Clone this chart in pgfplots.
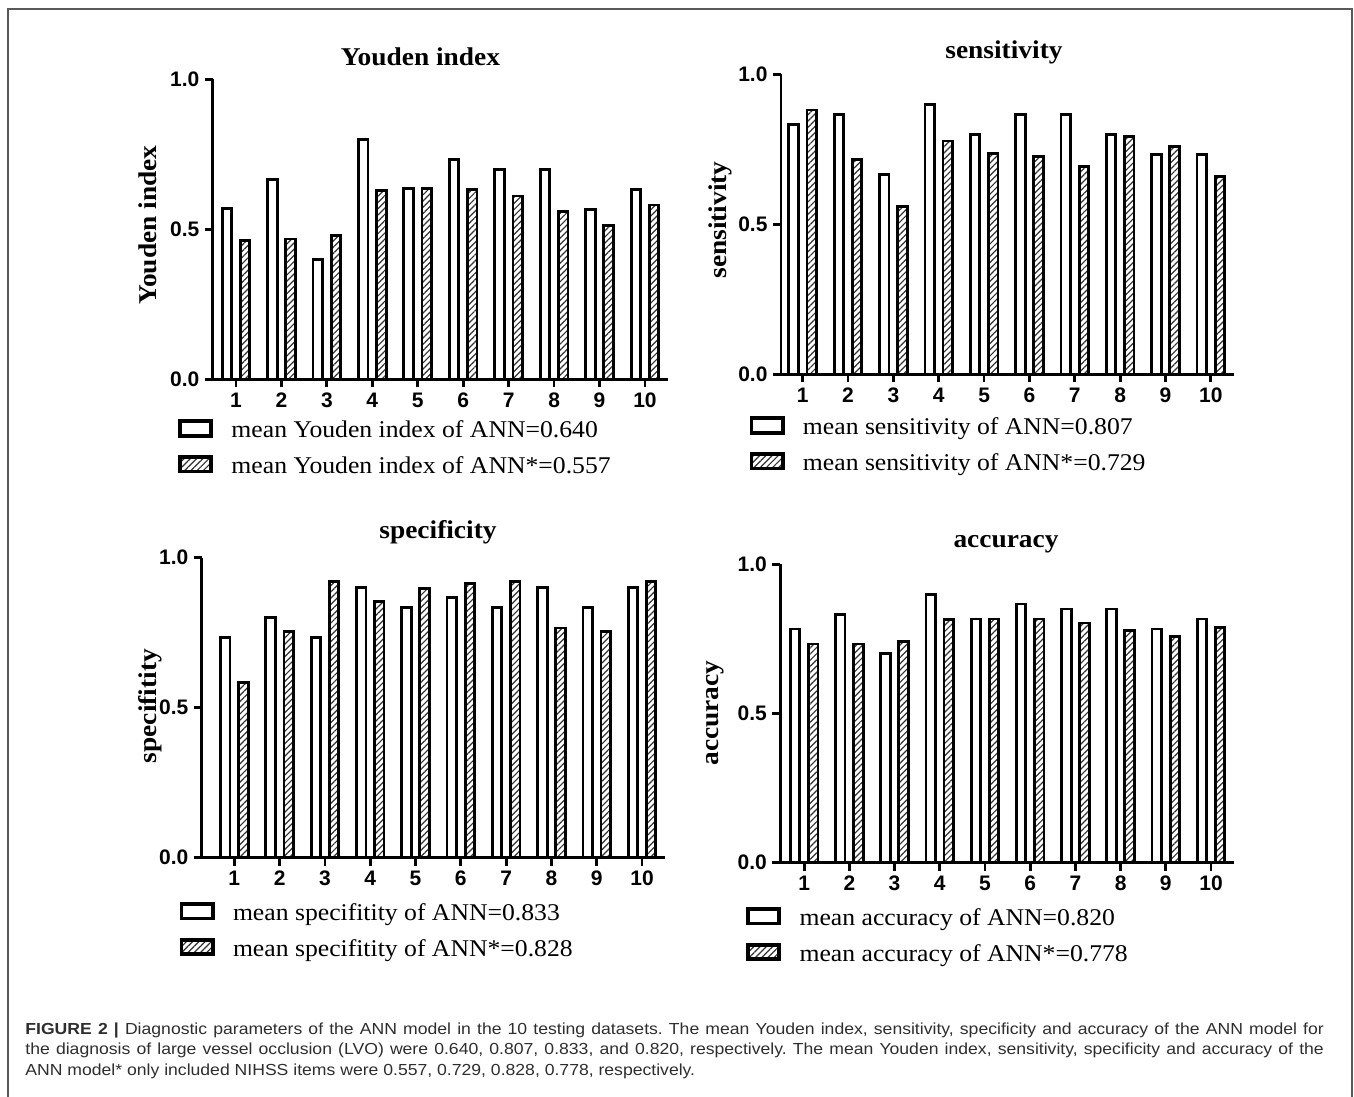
\documentclass[border=0pt]{standalone}
\usepackage{fontspec}
\setmainfont{Liberation Serif}[FakeStretch=1.07]
\setsansfont{Liberation Sans}
\newfontfamily\capfont{Liberation Sans}[FakeStretch=1.1]
\usepackage{pgfplots}
\pgfplotsset{compat=1.18}
\usetikzlibrary{patterns.meta}

\pgfplotsset{
  panel/.style={
    scale only axis, anchor=south west, clip=false,
    ymin=0, ymax=1, ytick={0,0.5,1}, yticklabels={0.0,0.5,1.0},
    xtick={1,2,3,4,5,6,7,8,9,10}, xticklabels={1,2,3,4,5,6,7,8,9,10},
    axis lines*=left,
    axis line style={line width=1.4pt, black},
    every tick/.style={line width=1.4pt, black},
    major tick length=4pt, tick align=outside, minor tick num=0,
    tick label style={font=\sffamily\bfseries\fontsize{10.5}{12}\selectfont},
    yticklabel style={anchor=east, inner sep=0pt, xshift=-2.5pt},
    xticklabel style={anchor=north, inner sep=0pt, yshift=-2.5pt},
    legend cell align=left,
    legend style={anchor=north west, draw=none, fill=none, inner sep=0pt, outer sep=0pt,
      row sep=5.6pt, column sep=9.2pt, font=\fontsize{12}{14}\selectfont,
      nodes={inner sep=0pt, outer sep=0pt, text height=9pt, text depth=3pt}},
  },
  whitebar/.style={ybar, bar width=0.21, bar shift=-0.2, draw=black, line width=1.4pt, fill=white,
    legend image code/.code={\draw[##1, line width=1.9pt] (0pt,-2pt) rectangle (15.6pt,5.3pt);}},
  hatchbar/.style={ybar, bar width=0.21, bar shift=0.2, draw=black, line width=1.4pt,
    pattern={Lines[angle=45,distance=2.2pt,line width=0.6pt]}, pattern color=black!80,
    legend image code/.code={\draw[##1, line width=1.9pt] (0pt,-2pt) rectangle (15.6pt,5.3pt);}},
}

\begin{document}
\begin{tikzpicture}

% ---------- Youden index ----------
\begin{axis}[panel, at={(106.4pt,-189.65pt)}, width=227.45pt, height=150pt,
  xmin=0.49, xmax=10.5,
  legend style={at={(axis description cs:-0.0763,-0.1333)}}]
\addplot[whitebar] coordinates {(1,0.570) (2,0.667) (3,0.400) (4,0.800) (5,0.637) (6,0.733) (7,0.700) (8,0.700) (9,0.567) (10,0.633)};
\addlegendentry{mean Youden index of ANN=0.640}
\addplot[hatchbar] coordinates {(1,0.464) (2,0.468) (3,0.479) (4,0.630) (5,0.637) (6,0.634) (7,0.611) (8,0.559) (9,0.514) (10,0.581)};
\addlegendentry{mean Youden index of ANN*=0.557}
\end{axis}

% ---------- sensitivity ----------
\begin{axis}[panel, at={(390.45pt,-187.15pt)}, width=226.3pt, height=150pt,
  xmin=0.52, xmax=10.5,
  legend style={at={(axis description cs:-0.0692,-0.14)}}]
\addplot[whitebar] coordinates {(1,0.833) (2,0.867) (3,0.667) (4,0.900) (5,0.800) (6,0.867) (7,0.867) (8,0.800) (9,0.733) (10,0.733)};
\addlegendentry{mean sensitivity of ANN=0.807}
\addplot[hatchbar] coordinates {(1,0.881) (2,0.717) (3,0.559) (4,0.778) (5,0.737) (6,0.726) (7,0.692) (8,0.792) (9,0.760) (10,0.659)};
\addlegendentry{mean sensitivity of ANN*=0.729}
\end{axis}

% ---------- specificity ----------
\begin{axis}[panel, at={(100.85pt,-428.85pt)}, width=231.5pt, height=150pt,
  xmin=0.28, xmax=10.5,
  legend style={at={(axis description cs:-0.0477,-0.1477)}}]
\addplot[whitebar] coordinates {(1,0.733) (2,0.800) (3,0.733) (4,0.900) (5,0.833) (6,0.867) (7,0.833) (8,0.900) (9,0.833) (10,0.900)};
\addlegendentry{mean specifitity of ANN=0.833}
\addplot[hatchbar] coordinates {(1,0.583) (2,0.753) (3,0.922) (4,0.853) (5,0.897) (6,0.913) (7,0.922) (8,0.766) (9,0.753) (10,0.922)};
\addlegendentry{mean specifitity of ANN*=0.828}
\end{axis}

% ---------- accuracy ----------
\begin{axis}[panel, at={(390.1pt,-431.35pt)}, width=226.7pt, height=149.2pt,
  xmin=0.47, xmax=10.5,
  legend style={at={(axis description cs:-0.075,-0.1485)}}]
\addplot[whitebar] coordinates {(1,0.783) (2,0.833) (3,0.700) (4,0.900) (5,0.817) (6,0.867) (7,0.850) (8,0.850) (9,0.783) (10,0.817)};
\addlegendentry{mean accuracy of ANN=0.820}
\addplot[hatchbar] coordinates {(1,0.733) (2,0.733) (3,0.742) (4,0.814) (5,0.817) (6,0.817) (7,0.803) (8,0.779) (9,0.758) (10,0.788)};
\addlegendentry{mean accuracy of ANN*=0.778}
\end{axis}

\begin{scope}[x=0.5pt,y=-0.5pt]
  % frame
  \draw[line width=1pt, black!65] (8,1097) -- (8,9) -- (1351.5,9) -- (1351.5,1097);
  % titles
  \begin{scope}[every node/.style={font=\bfseries\fontsize{12.8}{14}\selectfont}]
    \node[anchor=base] at (420.5,66) {Youden index};
    \node[anchor=base] at (1004,59) {sensitivity};
    \node[anchor=base] at (438,538) {specificity};
    \node[anchor=base] at (1006,547) {accuracy};
    \node[rotate=90, anchor=center] at (148,225) {Youden index};
    \node[rotate=90, anchor=center] at (720,220) {sensitivity};
    \node[rotate=90, anchor=center] at (150,706) {specifitity};
    \node[rotate=90, anchor=center] at (715,713) {accuracy};
  \end{scope}
  % caption
  \begin{scope}[every node/.style={anchor=base west, inner sep=0pt, font=\capfont\fontsize{8}{9.6}\selectfont\frenchspacing, text=black!82}]
    \node at (25,1034) {\makebox[649.25pt][s]{\textbf{FIGURE 2 |} Diagnostic parameters of the ANN model in the 10 testing datasets. The mean Youden index, sensitivity, specificity and accuracy of the ANN model for}};
    \node at (25,1054.5) {\makebox[649.25pt][s]{the diagnosis of large vessel occlusion (LVO) were 0.640, 0.807, 0.833, and 0.820, respectively. The mean Youden index, sensitivity, specificity and accuracy of the}};
    \node at (25,1075) {ANN model* only included NIHSS items were 0.557, 0.729, 0.828, 0.778, respectively.};
  \end{scope}
\end{scope}

\pgfresetboundingbox
\path (0pt,0pt) rectangle (677pt,-548.5pt);
\end{tikzpicture}
\end{document}
